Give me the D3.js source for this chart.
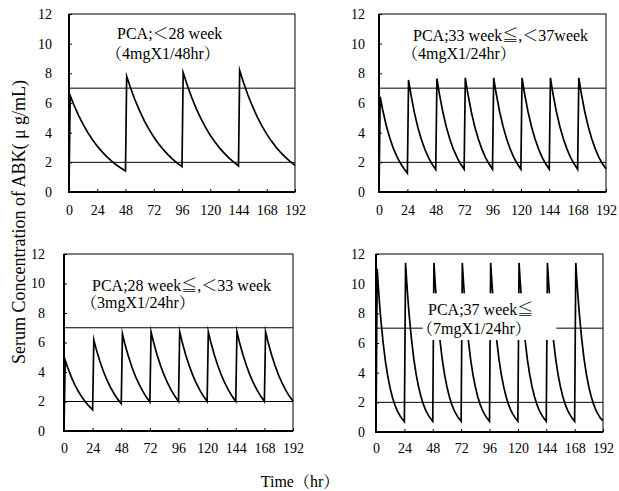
<!DOCTYPE html>
<html>
<head>
<meta charset="utf-8">
<script src="https://cdn.jsdelivr.net/npm/d3@7"></script>
<style>
  html, body { margin: 0; padding: 0; background: #fff; }
  svg { display: block; }
  text { font-family: "Liberation Serif", "Noto Serif CJK JP", "Noto Sans CJK JP", serif; fill: #000; }
</style>
</head>
<body>
<svg id="chart" width="619" height="491"></svg>
<script>
// ---------- data ----------
const xTicks = [0, 24, 48, 72, 96, 120, 144, 168, 192];
const yTicks = [0, 2, 4, 6, 8, 10, 12];
const refLevels = [2, 7];
const yLabel = "Serum Concentration of ABK( \u03bc g/mL)";
const xLabel = "Time\uff08hr\uff09";

const titles1 = ["PCA;\uff1c28 week", "\uff084mgX1/48hr\uff09"];
const titles2 = ["PCA;33 week\u2266,\uff1c37week", "\uff084mgX1/24hr\uff09"];
const titles3 = ["PCA;28 week\u2266,\uff1c33 week", "\uff083mgX1/24hr\uff09"];
const titles4 = ["PCA;37 week\u2266", "\uff087mgX1/24hr\uff09"];

// [hour, concentration µg/mL]
const series1 = [
  [0,0],[1,6.5],[4,5.90],[8,5.19],[12,4.56],[16,4.00],[20,3.52],[24,3.09],[28,2.72],[32,2.39],[36,2.10],[40,1.84],[44,1.62],[48,1.42],
  [49,7.8],[52,7.08],[56,6.22],[60,5.47],[64,4.80],[68,4.22],[72,3.71],[76,3.26],[80,2.87],[84,2.52],[88,2.21],[92,1.95],[96,1.71],
  [97,8.05],[100,7.31],[104,6.42],[108,5.64],[112,4.96],[116,4.36],[120,3.83],[124,3.37],[128,2.96],[132,2.60],[136,2.28],[140,2.01],[144,1.76],
  [145,8.2],[148,7.44],[152,6.54],[156,5.75],[160,5.05],[164,4.44],[168,3.90],[172,3.43],[176,3.01],[180,2.65],[184,2.33],[188,2.05],[192,1.80]
];
const series2 = [
  [0,0],[1,6.42],[3,5.58],[6,4.52],[9,3.67],[12,2.97],[15,2.41],[18,1.95],[21,1.58],[24,1.26],
  [25,7.55],[27,6.56],[30,5.32],[33,4.31],[36,3.50],[39,2.83],[42,2.30],[45,1.86],[48,1.51],
  [49,7.65],[51,6.65],[54,5.39],[57,4.37],[60,3.54],[63,2.87],[66,2.33],[69,1.89],[72,1.53],
  [73,7.7],[75,6.69],[78,5.43],[81,4.40],[84,3.57],[87,2.89],[90,2.34],[93,1.90],[96,1.54],
  [97,7.7],[99,6.69],[102,5.43],[105,4.40],[108,3.57],[111,2.89],[114,2.34],[117,1.90],[120,1.54],
  [121,7.7],[123,6.69],[126,5.43],[129,4.40],[132,3.57],[135,2.89],[138,2.34],[141,1.90],[144,1.54],
  [145,7.7],[147,6.69],[150,5.43],[153,4.40],[156,3.57],[159,2.89],[162,2.34],[165,1.90],[168,1.54],
  [169,7.7],[171,6.69],[174,5.43],[177,4.40],[180,3.57],[183,2.89],[186,2.34],[189,1.90],[192,1.56]
];
const series3 = [
  [0,0],[1,4.8],[3,4.32],[6,3.69],[9,3.15],[12,2.69],[15,2.30],[18,1.97],[21,1.68],[24,1.44],
  [25,6.17],[27,5.55],[30,4.75],[33,4.05],[36,3.46],[39,2.96],[42,2.53],[45,2.16],[48,1.86],
  [49,6.58],[51,5.92],[54,5.06],[57,4.32],[60,3.69],[63,3.16],[66,2.70],[69,2.30],[72,1.97],
  [73,6.72],[75,6.05],[78,5.17],[81,4.42],[84,3.77],[87,3.22],[90,2.75],[93,2.35],[96,2.01],
  [97,6.72],[99,6.05],[102,5.17],[105,4.42],[108,3.77],[111,3.22],[114,2.75],[117,2.35],[120,2.01],
  [121,6.72],[123,6.05],[126,5.17],[129,4.42],[132,3.77],[135,3.22],[138,2.75],[141,2.35],[144,2.01],
  [145,6.72],[147,6.05],[150,5.17],[153,4.42],[156,3.77],[159,3.22],[162,2.75],[165,2.35],[168,2.01],
  [169,6.72],[171,6.05],[174,5.17],[177,4.42],[180,3.77],[183,3.22],[186,2.75],[189,2.35],[192,2.03]
];
const series4 = [
  [0,0],[1,11.0],[2,9.76],[3,8.65],[4,7.67],[6,6.04],[8,4.75],[10,3.74],[12,2.94],[14,2.31],[16,1.82],[18,1.43],[20,1.13],[22,0.89],[24,0.70],
  [25,11.4],[26,10.11],[27,8.97],[28,7.95],[30,6.26],[32,4.92],[34,3.87],[36,3.05],[38,2.40],[40,1.88],[42,1.48],[44,1.17],[46,0.92],[48,0.72],
  [49,11.4],[50,10.11],[51,8.97],[52,7.95],[54,6.26],[56,4.92],[58,3.87],[60,3.05],[62,2.40],[64,1.88],[66,1.48],[68,1.17],[70,0.92],[72,0.72],
  [73,11.4],[74,10.11],[75,8.97],[76,7.95],[78,6.26],[80,4.92],[82,3.87],[84,3.05],[86,2.40],[88,1.88],[90,1.48],[92,1.17],[94,0.92],[96,0.72],
  [97,11.4],[98,10.11],[99,8.97],[100,7.95],[102,6.26],[104,4.92],[106,3.87],[108,3.05],[110,2.40],[112,1.88],[114,1.48],[116,1.17],[118,0.92],[120,0.72],
  [121,11.4],[122,10.11],[123,8.97],[124,7.95],[126,6.26],[128,4.92],[130,3.87],[132,3.05],[134,2.40],[136,1.88],[138,1.48],[140,1.17],[142,0.92],[144,0.72],
  [145,11.4],[146,10.11],[147,8.97],[148,7.95],[150,6.26],[152,4.92],[154,3.87],[156,3.05],[158,2.40],[160,1.88],[162,1.48],[164,1.17],[166,0.92],[168,0.72],
  [169,11.4],[170,10.11],[171,8.97],[172,7.95],[174,6.26],[176,4.92],[178,3.87],[180,3.05],[182,2.40],[184,1.88],[186,1.48],[188,1.17],[190,0.92],[192,0.76]
];

// ---------- layout ----------
const panels = [
  { data: series1, titles: titles1, x0: 69,  x1: 295, y0: 14,  y1: 192, yPad: 17, xPad: 13, tx: 117, ty: 33, lineGap: 20, box: null },
  { data: series2, titles: titles2, x0: 379, x1: 606, y0: 14,  y1: 192, yPad: 14, xPad: 13, tx: 413, ty: 35, lineGap: 18, box: null },
  { data: series3, titles: titles3, x0: 64,  x1: 293, y0: 254, y1: 431, yPad: 19, xPad: 12, tx: 92,  ty: 285, lineGap: 17, box: null },
  { data: series4, titles: titles4, x0: 376, x1: 603, y0: 254, y1: 432, yPad: 11, xPad: 11, tx: 428, ty: 309, lineGap: 19,
    box: { t0: 39.5, t1: 152.5, c0: 6.2, c1: 9.35 } }
];
const parenShift = 11; // fullwidth "（" has left side bearing

const svg = d3.select("#chart");

panels.forEach(p => {
  const x = d3.scaleLinear().domain([0, 192]).range([p.x0, p.x1]);
  const y = d3.scaleLinear().domain([0, 12]).range([p.y1, p.y0]);
  const g = svg.append("g");

  g.append("rect")
    .attr("x", p.x0).attr("y", p.y0)
    .attr("width", p.x1 - p.x0).attr("height", p.y1 - p.y0)
    .attr("fill", "none").attr("stroke", "#000").attr("stroke-width", 1);

  g.append("path")
    .datum(p.data)
    .attr("d", d3.line().x(d => x(d[0])).y(d => y(d[1])))
    .attr("fill", "none").attr("stroke", "#000")
    .attr("stroke-width", 1.7).attr("stroke-linejoin", "miter").attr("stroke-miterlimit", 10);

  g.selectAll(".ref").data(refLevels).enter().append("line")
    .attr("x1", x(0)).attr("x2", x(192))
    .attr("y1", d => y(d)).attr("y2", d => y(d))
    .attr("stroke", "#000").attr("stroke-width", 1);

  if (p.box) {
    g.append("rect")
      .attr("x", x(p.box.t0)).attr("y", y(p.box.c1))
      .attr("width", x(p.box.t1) - x(p.box.t0))
      .attr("height", y(p.box.c0) - y(p.box.c1))
      .attr("fill", "#fff");
  }

  p.titles.forEach((t, i) => {
    g.append("text")
      .attr("x", p.tx - (i === 1 ? parenShift : 0)).attr("y", p.ty + i * p.lineGap)
      .attr("dy", "0.35em")
      .style("font-size", "16px")
      .text(t);
  });

  const ax = g.append("g").attr("transform", `translate(0,${p.y1})`)
    .call(d3.axisBottom(x).tickValues(xTicks).tickSize(-3).tickPadding(p.xPad));
  const ay = g.append("g").attr("transform", `translate(${p.x0},0)`)
    .call(d3.axisLeft(y).tickValues(yTicks).tickSize(-3).tickPadding(p.yPad));
  [ax, ay].forEach(a => {
    a.select(".domain").remove();
    a.selectAll("text").style("font-size", "14px")
      .style("font-family", "'Liberation Serif', serif");
    a.selectAll(".tick line").attr("stroke-width", 1);
  });

  g.append("line").attr("x1", p.x0).attr("x2", p.x0).attr("y1", p.y0).attr("y2", p.y1 + 1)
    .attr("stroke", "#000").attr("stroke-width", 2);
  g.append("line").attr("x1", p.x0 - 1).attr("x2", p.x1).attr("y1", p.y1).attr("y2", p.y1)
    .attr("stroke", "#000").attr("stroke-width", 2);
});

svg.append("text")
  .attr("transform", "translate(19,222) rotate(-90)")
  .attr("text-anchor", "middle").attr("dy", "0.35em")
  .style("font-size", "18px")
  .text(yLabel);

svg.append("text")
  .attr("x", 300).attr("y", 481)
  .attr("text-anchor", "middle").attr("dy", "0.35em")
  .style("font-size", "16px")
  .text(xLabel);
</script>
</body>
</html>
